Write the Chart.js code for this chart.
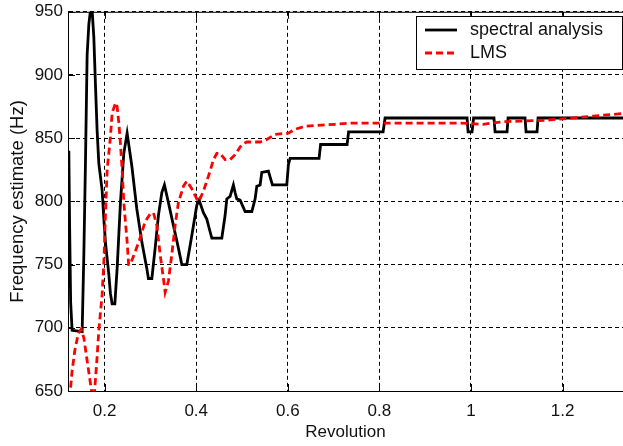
<!DOCTYPE html>
<html>
<head>
<meta charset="utf-8">
<script src="https://cdn.jsdelivr.net/npm/chart.js@4.4.0/dist/chart.umd.min.js"></script>
<style>
	html, body { margin: 0; padding: 0; background: #fff; }
	#wrap { width: 623px; height: 446px; }
</style>
</head>
<body>
<div id="wrap"><canvas id="freqChart" width="623" height="446"></canvas></div>
<script>
'use strict';

// axis ticks
const xTicks = [0.2, 0.4, 0.6, 0.8, 1.0, 1.2];
const yTicks = [650, 700, 750, 800, 850, 900, 950];

// spectral analysis (black, solid)
const spectralX = [
	0.1218, 0.1236, 0.1258, 0.1290, 0.1509, 0.1546, 0.1581, 0.1618, 0.1655, 0.1690,
	0.1727, 0.1764, 0.1799, 0.1836, 0.1873, 0.1945, 0.1983, 0.2017, 0.2092, 0.2127,
	0.2164, 0.2223, 0.2273, 0.2345, 0.2419, 0.2491, 0.2594, 0.2703, 0.2812, 0.2921,
	0.2956, 0.3031, 0.3103, 0.3175, 0.3249, 0.3306, 0.3393, 0.3502, 0.3611, 0.3686,
	0.3795, 0.3904, 0.4013, 0.4063, 0.4157, 0.4231, 0.4303, 0.4341, 0.4559, 0.4631,
	0.4668, 0.4740, 0.4812, 0.4849, 0.4886, 0.4959, 0.5068, 0.5214, 0.5286, 0.5323,
	0.5395, 0.5432, 0.5576, 0.5664, 0.5978, 0.6013, 0.6050, 0.6683, 0.6716, 0.7295,
	0.7328, 0.8081, 0.8124, 0.9915, 0.9937, 1.0024, 1.0057, 1.0502, 1.0526, 1.0788,
	1.0810, 1.1181, 1.1203, 1.1443, 1.1465, 1.3320
];
const spectralY = [
	840, 779, 720, 698, 697, 758, 830, 916, 940, 951,
	951, 930, 893, 856, 830, 809, 786, 768, 742, 727,
	719, 719, 747, 799, 838, 854, 828, 794, 768, 747,
	739, 739, 763, 789, 807, 813, 799, 781, 763, 750,
	750, 773, 797, 801, 791, 786, 776, 771, 771, 789,
	802, 804, 813, 807, 802, 801, 792, 792, 802, 812,
	813, 823, 824, 813, 813, 829, 834, 834, 845, 845,
	855, 855, 866, 866, 855, 855, 866, 866, 855, 855,
	866, 866, 855, 855, 866, 866
];

// LMS (red, dashed)
const lmsX = [
	0.1231, 0.1253, 0.1290, 0.1349, 0.1421, 0.1487, 0.1546, 0.1618, 0.1690, 0.1738,
	0.1771, 0.1830, 0.1873, 0.1945, 0.1983, 0.2017, 0.2055, 0.2127, 0.2164, 0.2240,
	0.2273, 0.2310, 0.2345, 0.2382, 0.2419, 0.2491, 0.2524, 0.2557, 0.2666, 0.2775,
	0.2884, 0.2993, 0.3066, 0.3140, 0.3212, 0.3284, 0.3321, 0.3393, 0.3467, 0.3539,
	0.3611, 0.3721, 0.3795, 0.3904, 0.4013, 0.4057, 0.4157, 0.4231, 0.4303, 0.4376,
	0.4450, 0.4522, 0.4631, 0.4740, 0.4849, 0.4996, 0.5105, 0.5395, 0.5541, 0.5723,
	0.5832, 0.6013, 0.6159, 0.6378, 0.6815, 0.7033, 0.7397, 0.9762, 1.0264, 1.0701,
	1.1072, 1.1662, 1.2098, 1.2666, 1.3320
];
const lmsY = [
	644, 651, 666, 682, 695, 699, 692, 674, 656, 645,
	645, 674, 698, 726, 752, 789, 825, 851, 870, 878,
	875, 862, 846, 825, 799, 768, 750, 750, 760, 771,
	784, 790, 791, 781, 758, 739, 728, 737, 758, 781,
	799, 812, 816, 810, 802, 800, 808, 816, 824, 833,
	838, 838, 833, 833, 837, 845, 847, 847, 849, 853,
	853.5, 854, 857, 859.5, 860.5, 861, 862, 862, 861, 863,
	863.5, 864.3, 865.6, 867.5, 869.5
];

const FAMILY = "'Liberation Sans', Arial, sans-serif";
const FONT = { family: FAMILY, size: 17 };

function toPoints(xs, ys) {
	return xs.map((x, i) => ({ x: x, y: ys[i] }));
}

// frame top line, inner tick marks, legend box
const framePlugin = {
	id: 'framePlugin',
	afterDraw(chart) {
		const ctx = chart.ctx;
		const area = chart.chartArea;
		const xs = chart.scales.x;
		const ys = chart.scales.y;
		ctx.save();
		ctx.strokeStyle = '#000';
		ctx.lineWidth = 1;
		ctx.setLineDash([]);
		ctx.beginPath();
		ctx.moveTo(area.left, area.top + 0.5);
		ctx.lineTo(area.right, area.top + 0.5);
		xTicks.forEach(v => {
			const px = Math.round(xs.getPixelForValue(v)) + 0.5;
			ctx.moveTo(px, area.top);
			ctx.lineTo(px, area.top + 7);
			ctx.moveTo(px, area.bottom);
			ctx.lineTo(px, area.bottom - 7);
		});
		yTicks.forEach(v => {
			const py = Math.round(ys.getPixelForValue(v)) + 0.5;
			ctx.moveTo(area.left, py);
			ctx.lineTo(area.left + 7, py);
		});
		ctx.stroke();

		// legend
		const bx = 416, by = 16, bw = 206, bh = 53;
		ctx.fillStyle = '#fff';
		ctx.fillRect(bx, by, bw, bh);
		ctx.strokeRect(bx + 0.5, by + 0.5, bw, bh);

		ctx.lineWidth = 2.8;
		ctx.strokeStyle = '#000';
		ctx.beginPath();
		ctx.moveTo(425, 30);
		ctx.lineTo(457, 30);
		ctx.stroke();

		ctx.strokeStyle = '#ff0000';
		ctx.setLineDash([7, 4]);
		ctx.beginPath();
		ctx.moveTo(425, 53);
		ctx.lineTo(457, 53);
		ctx.stroke();
		ctx.setLineDash([]);

		ctx.fillStyle = '#111';
		ctx.font = '18px ' + FAMILY;
		ctx.textBaseline = 'middle';
		ctx.textAlign = 'left';
		ctx.fillText('spectral analysis', 470, 30);
		ctx.fillText('LMS', 470, 53);
		ctx.restore();
	}
};

const freq_chart = document.getElementById('freqChart');

new Chart(freq_chart, {
	type: 'line',
	data: {
		datasets: [{
			label: 'spectral analysis',
			data: toPoints(spectralX, spectralY),
			borderColor: '#000',
			borderWidth: 2.8,
			pointRadius: 0,
			tension: 0,
			clip: 0,
			order: 1
		}, {
			label: 'LMS',
			data: toPoints(lmsX, lmsY),
			borderColor: '#ff0000',
			borderWidth: 2.8,
			borderDash: [7, 4],
			pointRadius: 0,
			tension: 0,
			clip: 0,
			order: 0
		}]
	},
	options: {
		responsive: false,
		animation: false,
		devicePixelRatio: 1,
		layout: {
			padding: { top: 7, right: 0, bottom: 0, left: 0 }
		},
		plugins: {
			legend: { display: false },
			tooltip: { enabled: false },
			title: { display: false }
		},
		scales: {
			x: {
				type: 'linear',
				min: 0.12,
				max: 1.332,
				afterBuildTicks: axis => { axis.ticks = xTicks.map(v => ({ value: v })); },
				afterFit: scale => { scale.height = 55; },
				ticks: {
					font: FONT,
					color: '#111',
					padding: 10,
					maxRotation: 0,
					autoSkip: false,
					callback: v => String(+v.toFixed(1))
				},
				grid: { color: '#000', lineWidth: 1, drawTicks: false },
				border: { display: true, color: '#000', width: 1, dash: [4, 3] },
				title: {
					display: true,
					text: 'Revolution',
					color: '#111',
					font: FONT,
					padding: { top: 0, bottom: 3 }
				}
			},
			y: {
				min: 650,
				max: 950,
				afterBuildTicks: axis => { axis.ticks = yTicks.map(v => ({ value: v })); },
				afterFit: scale => { scale.width = 68; },
				ticks: {
					font: { family: FAMILY, size: 17, lineHeight: 0.8 },
					color: '#111',
					padding: 5
				},
				grid: { color: '#000', lineWidth: 1, drawTicks: false },
				border: { display: true, color: '#000', width: 1, dash: [4, 3] },
				title: {
					display: true,
					text: 'Frequency estimate (Hz)',
					color: '#111',
					font: { family: FAMILY, size: 18.5 },
					padding: { top: 7, bottom: 0 }
				}
			}
		}
	},
	plugins: [framePlugin]
});
</script>
</body>
</html>
